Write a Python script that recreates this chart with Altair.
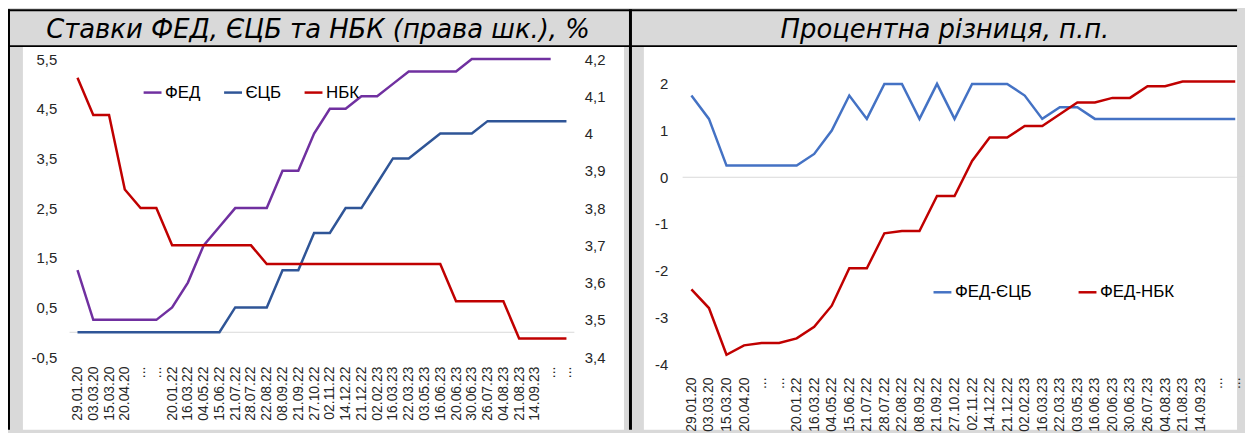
import altair as alt
import pandas as pd

# ---------------- data ----------------
dates = ["29.01.20", "03.03.20", "15.03.20", "20.04.20", "...", "...",
         "20.01.22", "16.03.22", "04.05.22", "15.06.22", "21.07.22", "28.07.22",
         "22.08.22", "08.09.22", "21.09.22", "27.10.22", "02.11.22", "14.12.22",
         "21.12.22", "02.02.23", "16.03.23", "22.03.23", "03.05.23", "16.06.23",
         "20.06.23", "30.06.23", "26.07.23", "04.08.23", "21.08.23", "14.09.23",
         "...", "..."]

fed = [1.25, 0.25, 0.25, 0.25, 0.25, 0.25, 0.5, 1.0, 1.75, 2.125, 2.5, 2.5,
       2.5, 3.25, 3.25, 4.0, 4.5, 4.5, 4.75, 4.75, 5.0, 5.25, 5.25, 5.25,
       5.25, 5.5, 5.5, 5.5, 5.5, 5.5, 5.5, None]
ecb = [0, 0, 0, 0, 0, 0, 0, 0, 0, 0, 0.5, 0.5,
       0.5, 1.25, 1.25, 2.0, 2.0, 2.5, 2.5, 3.0, 3.5, 3.5, 3.75, 4.0,
       4.0, 4.0, 4.25, 4.25, 4.25, 4.25, 4.25, 4.25]
nbk = [4.15, 4.05, 4.05, 3.85, 3.8, 3.8, 3.7, 3.7, 3.7, 3.7, 3.7, 3.7,
       3.65, 3.65, 3.65, 3.65, 3.65, 3.65, 3.65, 3.65, 3.65, 3.65, 3.65, 3.65,
       3.55, 3.55, 3.55, 3.55, 3.45, 3.45, 3.45, 3.45]

fed_ecb = [1.75, 1.25, 0.25, 0.25, 0.25, 0.25, 0.25, 0.5, 1.0, 1.75, 1.25, 2.0,
           2.0, 1.25, 2.0, 1.25, 2.0, 2.0, 2.0, 1.75, 1.25, 1.5, 1.5, 1.25,
           1.25, 1.25, 1.25, 1.25, 1.25, 1.25, 1.25, 1.25]
fed_nbk = [-2.4, -2.8, -3.8, -3.6, -3.55, -3.55, -3.45, -3.2, -2.75, -1.95, -1.95, -1.2,
           -1.15, -1.15, -0.4, -0.4, 0.35, 0.85, 0.85, 1.1, 1.1, 1.35, 1.6, 1.6,
           1.7, 1.7, 1.95, 1.95, 2.05, 2.05, 2.05, 2.05]

left_title = "Ставки ФЕД, ЄЦБ та НБК (права шк.), %"
right_title = "Процентна різниця, п.п."
left_names = ["ФЕД", "ЄЦБ", "НБК"]
left_colors = ["#7030a0", "#2f5597", "#c00000"]
right_names = ["ФЕД-ЄЦБ", "ФЕД-НБК"]
right_colors = ["#4472c4", "#c00000"]
left_ticks = [-0.5, 0.5, 1.5, 2.5, 3.5, 4.5, 5.5]
nbk_ticks = [3.4, 3.5, 3.6, 3.7, 3.8, 3.9, 4, 4.1, 4.2]
diff_ticks = [-4, -3, -2, -1, 0, 1, 2]

# ---------------- helpers ----------------
FONT = "Liberation Sans"
TFONT = "DejaVu Sans"
LAB = "#262626"
idx = list(range(len(dates)))


def long(lists, names):
    rows = []
    for name, vals in zip(names, lists):
        for i, v in enumerate(vals):
            if v is not None:
                rows.append({"i": i, "v": v, "s": name})
    return pd.DataFrame(rows)


df_left = long([fed, ecb], left_names[:2])
df_nbk = long([nbk], left_names[2:])
df_right = long([fed_ecb, fed_nbk], right_names)

date_expr = "[" + ",".join("'%s'" % d for d in dates) + "][datum.value]"
num_expr = "replace('' + datum.value, '.', ',')"
one = alt.Data(values=[{"k": 1}])


def x_enc(pad):
    return alt.X("i:O", scale=alt.Scale(type="point", padding=0.5, domain=idx),
                 axis=alt.Axis(title=None, labelExpr=date_expr, labelAngle=270,
                               labelFontSize=14, labelFont=FONT, labelColor=LAB,
                               labelPadding=pad, ticks=False, tickSize=0, domain=False,
                               grid=False, labelOverlap=False, zindex=1))


def y_axis(orient, values, pad):
    return alt.Axis(title=None, orient=orient, values=values, labelExpr=num_expr,
                    labelFontSize=15, labelFont=FONT, labelColor=LAB, labelPadding=pad,
                    ticks=False, tickSize=0, domain=False, grid=False, zindex=1)


def legend(lx, ly, colpad):
    return alt.Legend(title=None, orient="none", legendX=lx, legendY=ly,
                      direction="horizontal", symbolType="stroke", symbolSize=324,
                      symbolStrokeWidth=2.5, labelFontSize=17, labelFont=FONT,
                      labelColor="#000000", labelOffset=2, columnPadding=colpad,
                      padding=0)


# left-panel local origin is svg (62, 50)
OX, OY = 62, 50


def box(x1, y1, x2, y2, color):
    return alt.Chart(one).mark_rect(color=color).encode(
        x=alt.value(x1 - OX), x2=alt.value(x2 - OX),
        y=alt.value(y1 - OY), y2=alt.value(y2 - OY))


def label(text, cx, base):
    return alt.Chart(one).mark_text(font=TFONT, fontStyle="italic", fontSize=26,
                                    color="#000000", align="center",
                                    baseline="alphabetic").encode(
        x=alt.value(cx - OX), y=alt.value(base - OY), text=alt.value(text))


W, H = 1237, 423
decor = [
    box(15, 38, 620, H, "#ffffff"),
    box(640, 38, W, H, "#ffffff"),
    box(0, 0, W, 2, "#000000"),
    box(0, 0, 2, H, "#000000"),
    box(0, 36, W, 38, "#000000"),
    box(625, 0, 628, H, "#000000"),
    label(left_title, 312, 29),
    label(right_title, 943, 29),
]

left_scale = alt.Scale(domain=[-0.5, 5.5], nice=False, zero=False)
left_color = alt.Color("s:N", scale=alt.Scale(domain=left_names, range=left_colors),
                       legend=legend(73, 23, 18))

zero_left = alt.Chart(one).mark_rule(color="#d9d9d9", strokeWidth=1).encode(
    y=alt.Y(datum=0, scale=left_scale, axis=y_axis("left", left_ticks, 13)))

fed_ecb_lines = alt.Chart(df_left).mark_line(strokeWidth=2.5).encode(
    x=x_enc(9),
    y=alt.Y("v:Q", scale=left_scale, axis=y_axis("left", left_ticks, 13)),
    color=left_color,
    order="i:Q",
)

nbk_line = alt.Chart(df_nbk).mark_line(strokeWidth=2.5).encode(
    x=x_enc(9),
    y=alt.Y("v:Q", scale=alt.Scale(domain=[3.4, 4.2], nice=False, zero=False),
            axis=y_axis("right", nbk_ticks, 10)),
    color=left_color,
    order="i:Q",
)

left = alt.layer(*decor, alt.layer(zero_left, fed_ecb_lines), nbk_line).resolve_scale(
    y="independent").properties(width=508, height=300)

right_scale = alt.Scale(domain=[-4, 2 + 25 / 47], nice=False, zero=False)
zero_right = alt.Chart(one).mark_rule(color="#d9d9d9", strokeWidth=1).encode(
    y=alt.Y(datum=0, scale=right_scale, axis=y_axis("left", diff_ticks, 15)))

diff_lines = alt.Chart(df_right).mark_line(strokeWidth=2.5).encode(
    x=x_enc(13),
    y=alt.Y("v:Q", scale=right_scale, axis=y_axis("left", diff_ticks, 15)),
    color=alt.Color("s:N", scale=alt.Scale(domain=right_names, range=right_colors),
                    legend=legend(251, 224, 41)),
    order="i:Q",
)

right = alt.layer(zero_right, diff_lines).properties(width=565, height=307)

chart = alt.hconcat(left, right, spacing=109, bounds="flush").resolve_scale(
    color="independent").properties(background="#d9d9d9", padding=0).configure_view(
    strokeWidth=0)

chart.save("out.html", embed_options={"renderer": "svg", "actions": False})
